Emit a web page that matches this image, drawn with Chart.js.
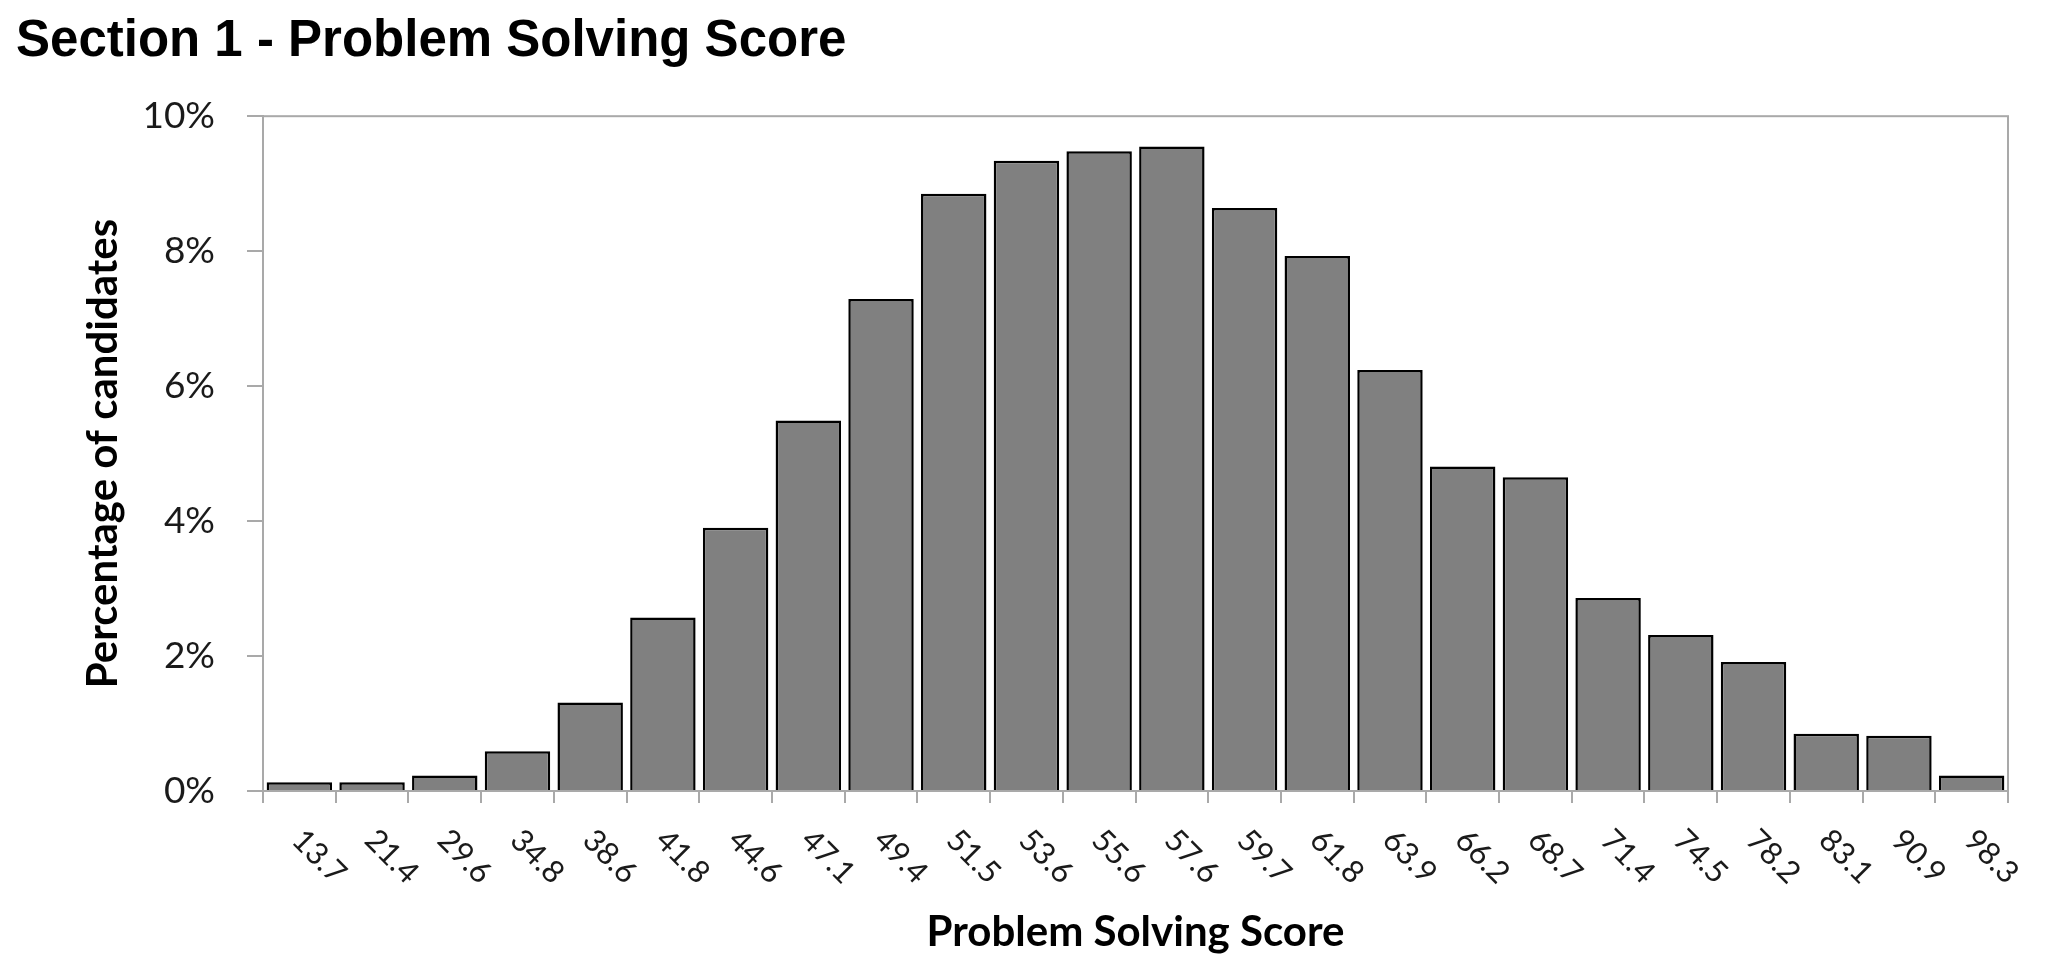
<!DOCTYPE html>
<html>
<head>
<meta charset="utf-8">
<script src="https://cdn.jsdelivr.net/npm/chart.js@4.4.1/dist/chart.umd.min.js"></script>
<style>
html,body{margin:0;padding:0;background:#ffffff;}
#wrap{width:2048px;height:971px;position:relative;}
canvas{display:block;}
</style>
</head>
<body>
<div id="wrap"><canvas id="c" width="2048" height="971"></canvas></div>
<script>
// ---- data ----
const chartTitle = 'Section 1 - Problem Solving Score';
const xAxisTitle = 'Problem Solving Score';
const yAxisTitle = 'Percentage of candidates';
const categories = ['13.7','21.4','29.6','34.8','38.6','41.8','44.6','47.1','49.4','51.5','53.6','55.6',
                    '57.6','59.7','61.8','63.9','66.2','68.7','71.4','74.5','78.2','83.1','90.9','98.3'];
const percentages = [0.13,0.13,0.23,0.59,1.31,2.57,3.90,5.49,7.29,8.85,9.34,9.48,
                     9.55,8.64,7.93,6.24,4.81,4.65,2.86,2.31,1.91,0.85,0.82,0.23];
const yMin = 0, yMax = 10, yStep = 2;

const AXIS_GRAY = '#a9a9a9';
const LABEL_FONT = 'Lato, "Open Sans", sans-serif';

// frame around plot area (top & right edges like the original)
const framePlugin = {
  id: 'frame',
  beforeDatasetsDraw(chart) {
    const {ctx, chartArea: a} = chart;
    ctx.save();
    ctx.strokeStyle = AXIS_GRAY;
    ctx.lineWidth = 2;
    ctx.strokeRect(a.left, a.top, a.right - a.left, a.bottom - a.top);
    ctx.restore();
  }
};

// rotated category labels (text running down-right from each tick)
const xLabelPlugin = {
  id: 'xLabels',
  afterDraw(chart) {
    const {ctx} = chart;
    const xs = chart.scales.x;
    ctx.save();
    ctx.fillStyle = '#1a1a1a';
    ctx.font = '31px ' + LABEL_FONT;
    ctx.textAlign = 'left';
    ctx.textBaseline = 'middle';
    categories.forEach((lab, i) => {
      const x = xs.getPixelForValue(i);
      const y = xs.top + 44;
      ctx.save();
      ctx.translate(x - 2, y);
      ctx.rotate(Math.PI / 4);
      ctx.fillText(lab, 0, 0);
      ctx.restore();
    });
    ctx.restore();
  }
};

new Chart(document.getElementById('c'), {
  type: 'bar',
  data: {
    labels: categories,
    datasets: [{
      data: percentages,
      backgroundColor: '#808080',
      borderColor: '#000000',
      borderWidth: 2.5,
      barPercentage: 0.9,
      categoryPercentage: 1.0
    }]
  },
  options: {
    responsive: false,
    animation: false,
    devicePixelRatio: 1,
    layout: {padding: {left: 16, right: 40, top: 0, bottom: 0}},
    plugins: {
      legend: {display: false},
      tooltip: {enabled: false},
      title: {
        display: true,
        text: chartTitle,
        align: 'start',
        color: '#000000',
        font: {family: '"Liberation Sans", Arial, sans-serif', size: 51, weight: 'bold', lineHeight: 1.2},
        padding: {top: 11, bottom: 44}
      }
    },
    scales: {
      x: {
        type: 'category',
        offset: true,
        grid: {offset: true, drawOnChartArea: false, drawTicks: true, tickLength: 12, color: AXIS_GRAY, lineWidth: 2},
        border: {display: true, color: AXIS_GRAY, width: 2},
        ticks: {display: false},
        title: {
          display: true,
          text: xAxisTitle,
          color: '#000000',
          font: {family: LABEL_FONT, size: 42, weight: 'bold', lineHeight: 1.2},
          padding: {top: 0, bottom: 13}
        },
        afterFit(s) { s.height = 180; }
      },
      y: {
        min: yMin,
        max: yMax,
        grid: {drawOnChartArea: false, drawTicks: true, tickLength: 16, color: AXIS_GRAY, lineWidth: 2},
        border: {display: true, color: AXIS_GRAY, width: 2},
        ticks: {
          stepSize: yStep,
          padding: 32,
          color: '#1a1a1a',
          font: {family: LABEL_FONT, size: 37},
          callback: v => v + '%'
        },
        title: {
          display: true,
          text: yAxisTitle,
          color: '#000000',
          font: {family: LABEL_FONT, size: 42, weight: 'bold', lineHeight: 1.2},
          padding: {top: 62, bottom: 0}
        },
        afterFit(s) { s.width = 247; }
      }
    }
  },
  plugins: [framePlugin, xLabelPlugin]
});
</script>
</body>
</html>
